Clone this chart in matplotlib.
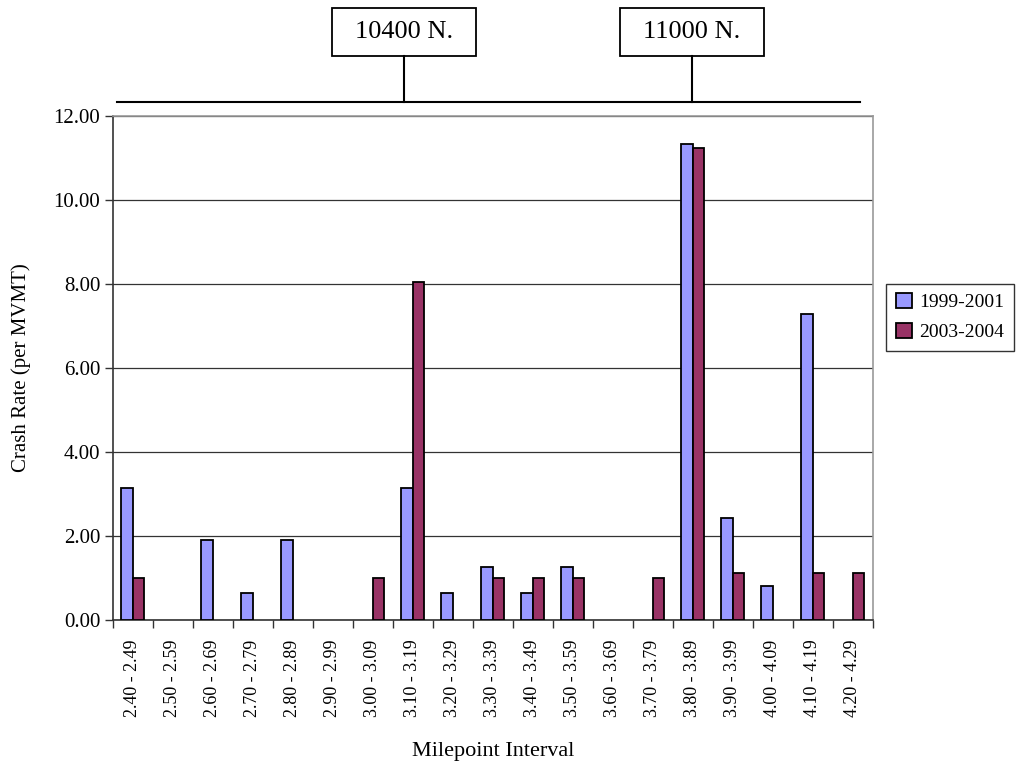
import numpy as np
import matplotlib.pyplot as plt
from matplotlib.lines import Line2D
from matplotlib.patches import Rectangle

# Milepoint intervals along the corridor
intervals = ['2.40 - 2.49', '2.50 - 2.59', '2.60 - 2.69', '2.70 - 2.79', '2.80 - 2.89',
             '2.90 - 2.99', '3.00 - 3.09', '3.10 - 3.19', '3.20 - 3.29', '3.30 - 3.39',
             '3.40 - 3.49', '3.50 - 3.59', '3.60 - 3.69', '3.70 - 3.79', '3.80 - 3.89',
             '3.90 - 3.99', '4.00 - 4.09', '4.10 - 4.19', '4.20 - 4.29']

# Crash rates (per MVMT) for the two study periods
rate_1999_2001 = [3.15, 0, 1.91, 0.63, 1.91, 0, 0, 3.15, 0.63, 1.27,
                  0.63, 1.27, 0, 0, 11.32, 2.43, 0.80, 7.27, 0]
rate_2003_2004 = [1.01, 0, 0, 0, 0, 0, 1.01, 8.03, 0, 1.01,
                  1.01, 1.01, 0, 1.01, 11.22, 1.11, 0, 1.11, 1.11]

y_ticks = [0, 2, 4, 6, 8, 10, 12]
cross_streets = ['10400 N.', '11000 N.']

plt.rcParams['font.family'] = ['Liberation Serif', 'DejaVu Serif']

fig = plt.figure(figsize=(10.17, 7.69), dpi=100)
ax = fig.add_axes([0.111, 0.1938, 0.747, 0.656])

x = np.arange(len(intervals))
w = 0.29


def nonzero(vals):
    # zero rates get no bar at all (avoids a flat outline on the axis)
    v = np.array(vals, dtype=float)
    return np.where(v > 0, v, np.nan)


ax.bar(x - w / 2, nonzero(rate_1999_2001), w, color='#9999ff', edgecolor='black',
       linewidth=1.3, label='1999-2001', zorder=3)
ax.bar(x + w / 2, nonzero(rate_2003_2004), w, color='#993366', edgecolor='black',
       linewidth=1.3, label='2003-2004', zorder=3)

ax.set_xlim(-0.5, len(intervals) - 0.5)
ax.set_ylim(0, 12)
ax.set_yticks(y_ticks)
ax.set_yticklabels([f'{v:.2f}' for v in y_ticks], fontsize=15)
ax.grid(axis='y', color='#333333', linewidth=0.9, zorder=0)

# category ticks sit between the bar groups, labels centred under each group
ax.set_xticks(np.arange(len(intervals) + 1) - 0.5)
ax.set_xticklabels([])
ax.set_xticks(x, minor=True)
ax.set_xticklabels(intervals, minor=True, rotation=90, fontsize=13)
ax.tick_params(axis='x', which='minor', length=0, pad=14)
ax.tick_params(axis='x', which='major', length=6, width=1, color='#333333')
ax.tick_params(axis='y', length=6, width=1, color='#333333', pad=3)

for side in ['top', 'right']:
    ax.spines[side].set_color('#999999')
    ax.spines[side].set_linewidth(1.2)
for side in ['left', 'bottom']:
    ax.spines[side].set_color('#333333')
    ax.spines[side].set_linewidth(1.2)

ax.set_ylabel('Crash Rate (per MVMT)', fontsize=15, labelpad=16)
ax.set_xlabel('Milepoint Interval', fontsize=16, labelpad=18)

leg = ax.legend(loc='center left', bbox_to_anchor=(1.018, 0.60), borderaxespad=0,
                fontsize=14, frameon=True, fancybox=False, edgecolor='black',
                handlelength=0.8, handleheight=0.8, handletextpad=0.4,
                borderpad=0.5, labelspacing=0.6)
leg.get_frame().set_linewidth(1.0)

# cross street markers above the plot
W, H = 1017, 769
box_w, box_h = 144, 48
fig.add_artist(Line2D([117 / W, 860 / W], [1 - 102 / H, 1 - 102 / H],
                      color='black', linewidth=1.5))
for label, xpix in zip(cross_streets, [404, 692]):
    fig.add_artist(Line2D([xpix / W, xpix / W], [1 - 56 / H, 1 - 102 / H],
                          color='black', linewidth=1.5))
    fig.add_artist(Rectangle(((xpix - box_w / 2) / W, 1 - 56 / H), box_w / W, box_h / H,
                             facecolor='white', edgecolor='black', linewidth=1.3))
    fig.text(xpix / W, 1 - 32 / H, label, ha='center', va='center', fontsize=19)

fig.savefig('out.png', dpi=100)
